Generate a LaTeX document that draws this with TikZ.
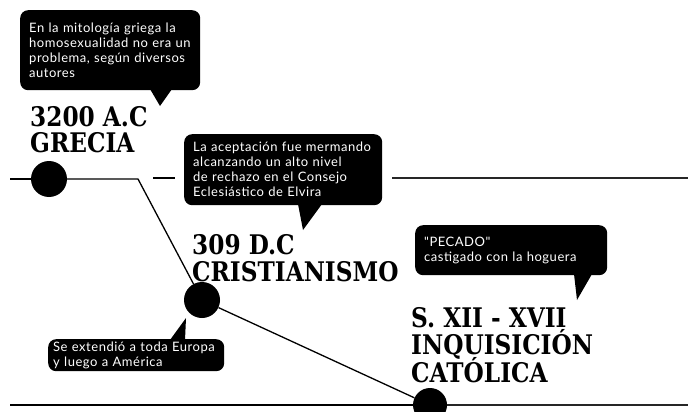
\documentclass[tikz,border=0pt]{standalone}
\usepackage{fontspec}
\setmainfont{Lato}
\newfontfamily\callfont{Lato}[LetterSpace=4]
\newfontfamily\titlefont{DejaVu Serif Bold}[FakeStretch=0.86]
\hyphenpenalty=10000
\begin{document}
\begin{tikzpicture}[x=1pt,y=-1pt,
  callout/.style={fill=black, rounded corners=8pt, text=white,
    font=\callfont\fontsize{13}{15}\selectfont, align=left, anchor=north west,
    inner xsep=9pt, inner ysep=0pt},
  dot/.style={circle, fill=black, minimum size=36pt, inner sep=0pt},
  tl/.style={line width=1.3pt, draw=black},
  ttl/.style={font=\titlefont\fontsize{27}{27}\selectfont, anchor=base west, inner sep=0pt},
  tail/.style={fill=black}]
\useasboundingbox (0,0) rectangle (688,412);
% timeline dots
\node[dot] (c1) at (49,179) {};
\node[dot] (c2) at (202,300) {};
\node[dot, minimum size=34pt] (c3) at (430,405) {};
% line coordinates
\coordinate (l1) at (10,179);
\coordinate (k1) at (138,179);
\coordinate (s1) at (153,178);
\coordinate (s2) at (175,178);
\coordinate (r1) at (392,178);
\coordinate (r2) at (688,178);
\coordinate (b1) at (10,405);
\coordinate (b2) at (688,405);
\draw[tl] (l1) -- (c1);
\draw[tl] (c1) -- (k1) -- (c2);
\draw[tl] (s1) -- (s2);
\draw[tl, draw=black!85] (r1) -- (r2);
\draw[tl] (c2) -- (c3);
\draw[tl] (b1) -- (c3);
\draw[tl, draw=black!85] (c3) -- (b2);
% callouts
\node[callout, text width=162pt, minimum height=80pt] (n1) at (20,10)
  {En la mitología griega la\\homosexualidad no era un\\problema, según diversos\\autores};
\fill[tail] (150,89) -- (172,89) -- (160,106) -- cycle;
\node[callout, text width=180pt, minimum height=71pt] (n2) at (184,134)
  {La aceptación fue mermando\\alcanzando un alto nivel\\de rechazo en el Consejo\\Eclesiástico de Elvira};
\fill[tail] (298,204) -- (322,204) -- (303,230) -- cycle;
\node[callout, inner xsep=5pt, text width=166pt, minimum height=32pt] (n3) at (48,339)
  {Se extendió a toda Europa\\y luego a América};
\fill[tail] (170,340) -- (185,340) -- (186,318) -- cycle;
\node[callout, text width=174pt, minimum height=50pt] (n4) at (415,225)
  {"PECADO"\\castigado con la hoguera};
\fill[tail] (574,274) -- (592,274) -- (577,300) -- cycle;
% titles
\node[ttl] (g1) at (30,126) {3200 A.C};
\node[ttl] (g2) at (30,152) {GRECIA};
\node[ttl] (h1) at (192,254) {309 D.C};
\node[ttl] (h2) at (192,281) {CRISTIANISMO};
\node[ttl] (i1) at (411,327) {S. XII - XVII};
\node[ttl] (i2) at (411,354) {INQUISICIÓN};
\node[ttl] (i3) at (411,382) {CATÓLICA};
\end{tikzpicture}
\end{document}
